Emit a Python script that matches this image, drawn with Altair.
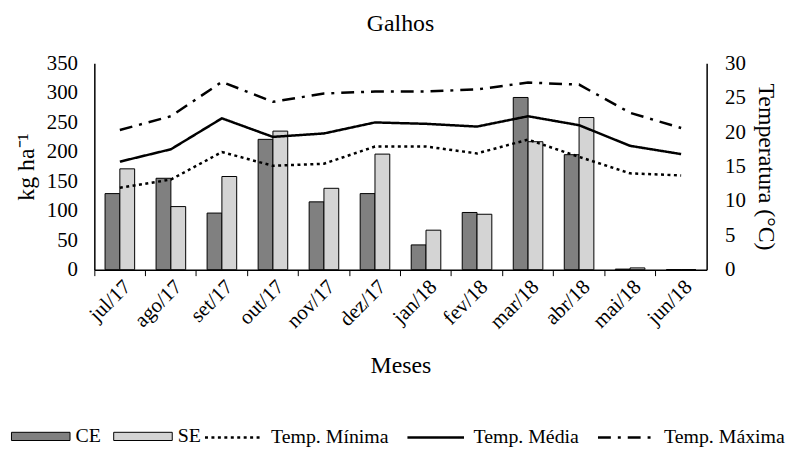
import altair as alt
import pandas as pd

months = ["jul/17", "ago/17", "set/17", "out/17", "nov/17", "dez/17",
          "jan/18", "fev/18", "mar/18", "abr/18", "mai/18", "jun/18"]
ce = [129, 155, 96, 221, 115, 129, 42, 97, 292, 195, 1, 0]
se = [171, 107, 158, 235, 138, 196, 67, 94, 217, 258, 3, 0]
t_min = [11.9, 13.1, 17.1, 15.1, 15.4, 17.9, 17.9, 16.9, 18.9, 16.4, 14.0, 13.7]
t_med = [15.7, 17.5, 22.0, 19.3, 19.8, 21.4, 21.2, 20.8, 22.3, 21.0, 18.0, 16.8]
t_max = [20.3, 22.3, 27.3, 24.4, 25.6, 25.9, 25.9, 26.2, 27.2, 26.9, 22.8, 20.6]

bar_series = ["CE", "SE"]
line_series = ["Temp. Mínima", "Temp. Média", "Temp. Máxima"]

bar_rows = []
for m, a, b in zip(months, ce, se):
    bar_rows.append({"month": m, "series": "CE", "value": a})
    bar_rows.append({"month": m, "series": "SE", "value": b})
bar_df = pd.DataFrame(bar_rows)

line_rows = []
for name, vals in zip(line_series, [t_min, t_med, t_max]):
    for m, v in zip(months, vals):
        line_rows.append({"month": m, "series": name, "temp": v})
line_df = pd.DataFrame(line_rows)

FONT = "Liberation Serif"
band_scale = alt.Scale(paddingInner=0.42, paddingOuter=0.21)

bars = alt.Chart(bar_df).mark_bar(stroke="black", strokeWidth=1).encode(
    x=alt.X("month:N", sort=months, scale=band_scale,
            axis=alt.Axis(title="Meses", labelAngle=-45, ticks=False, tickSize=0,
                          domain=False, labelPadding=6, titlePadding=22,
                          orient="bottom")),
    xOffset=alt.XOffset("series:N", sort=bar_series),
    y=alt.Y("value:Q", scale=alt.Scale(domain=[0, 350]),
            axis=alt.Axis(title="kg ha⁻¹", values=list(range(0, 351, 50)),
                          grid=False, ticks=False, tickSize=0, labelPadding=17,
                          titlePadding=8, orient="left")),
    fill=alt.Fill("series:N",
                  scale=alt.Scale(domain=bar_series, range=["#808080", "#d4d4d4"]),
                  legend=alt.Legend(title=None, orient="none", direction="horizontal",
                                    legendX=-84, legendY=346,
                                    symbolType="M-1,-0.14L1,-0.14L1,0.14L-1,0.14Z",
                                    symbolSize=3481, symbolStrokeColor="black",
                                    symbolStrokeWidth=1, columnPadding=10,
                                    labelOffset=5)),
)

lines = alt.Chart(line_df).mark_line(color="black", strokeWidth=2.5).encode(
    x=alt.X("month:N", sort=months, scale=band_scale, axis=None),
    y=alt.Y("temp:Q", scale=alt.Scale(domain=[0, 30]),
            axis=alt.Axis(title="Temperatura (°C)", values=list(range(0, 31, 5)),
                          grid=False, ticks=False, tickSize=0, labelPadding=18,
                          titlePadding=8, orient="right")),
    strokeDash=alt.StrokeDash("series:N", sort=line_series,
                              scale=alt.Scale(domain=line_series,
                                              range=[[3, 3.5], [1, 0], [13, 7, 3, 7]]),
                              legend=alt.Legend(title=None, orient="none",
                                                direction="horizontal",
                                                legendX=110, legendY=347,
                                                symbolType="stroke", symbolSize=3249,
                                                symbolStrokeWidth=2.5,
                                                symbolStrokeColor="black",
                                                columnPadding=13, labelOffset=8)),
)

ticks = alt.Chart(bar_df).mark_rule(opacity=0).encode(
    x=alt.X("month:N", sort=months, scale=alt.Scale(paddingInner=0, paddingOuter=0),
            axis=alt.Axis(orient="bottom", bandPosition=0, labels=False, title=None,
                          ticks=True, tickSize=6, domain=True)),
)

chart = alt.layer(bars, lines, ticks).resolve_scale(
    x="independent", y="independent"
).properties(
    width=617, height=208,
    padding={"left": 87, "top": 54, "right": 84, "bottom": 180},
    autosize=alt.AutoSizeParams(type="none"),
    title=alt.TitleParams("Galhos", font=FONT, fontSize=24, fontWeight="normal",
                          anchor="middle", offset=17, color="black"),
).configure_view(stroke=None).configure_axis(
    labelFont=FONT, titleFont=FONT, labelFontSize=21, titleFontSize=24,
    titleFontWeight="normal", labelColor="black", titleColor="black",
    domainColor="black", tickColor="black", domainWidth=1.5,
).configure_legend(
    labelFont=FONT, labelFontSize=20, labelColor="black",
)

chart.save("out.html", embed_options={"renderer": "svg", "actions": False})
